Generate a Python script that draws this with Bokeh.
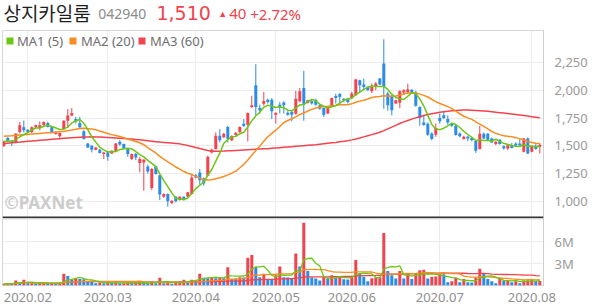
import numpy as np
import pandas as pd
from bokeh.plotting import figure
from bokeh.layouts import column
from bokeh.models import (Range1d, FixedTicker, NumeralTickFormatter, PrintfTickFormatter,
                          Label, BoxAnnotation, Span, ColumnDataSource)
from bokeh.embed import file_html
from bokeh.resources import INLINE

# ---------------- data ----------------
month_labels = ["2020.02", "2020.03", "2020.04", "2020.05", "2020.06", "2020.07", "2020.08"]
month_index = [6, 26, 48, 68, 87, 109, 132]   # session index of first trading day

opens = [1497, 1569, 1545, 1533, 1623, 1667, 1645, 1623, 1666, 1660,
         1684, 1705, 1667, 1605, 1585, 1650, 1726, 1772, 1742, 1706,
         1630, 1521, 1500, 1465, 1465, 1425, 1440, 1430, 1445, 1537,
         1515, 1470, 1381, 1425, 1345, 1350, 1312, 1120, 1315, 1235,
         1040, 1065, 985, 1040, 1012, 1040, 1042, 1066, 1235, 1260,
         1205, 1230, 1440, 1470, 1590, 1577, 1668, 1550, 1596, 1625,
         1698, 1689, 1849, 2045, 1840, 1879, 1915, 1915, 1780, 1870,
         1890, 1797, 1805, 1788, 1900, 2020, 1888, 1900, 1909, 1864,
         1840, 1790, 1858, 1948, 1966, 1924, 1924, 1930, 1955, 2090,
         2051, 2030, 1990, 2039, 2105, 2241, 1970, 1946, 1880, 1888,
         1980, 1985, 2005, 1980, 1849, 1710, 1698, 1610, 1600, 1750,
         1774, 1740, 1700, 1680, 1610, 1560, 1580, 1570, 1545, 1470,
         1607, 1607, 1565, 1515, 1555, 1495, 1475, 1505, 1520, 1520,
         1445, 1565, 1445, 1500, 1490]
highs = [1545, 1580, 1550, 1615, 1715, 1727, 1650, 1675, 1690, 1720,
         1720, 1715, 1675, 1630, 1620, 1730, 1830, 1840, 1760, 1760,
         1640, 1525, 1505, 1490, 1470, 1445, 1445, 1460, 1525, 1550,
         1520, 1475, 1430, 1435, 1400, 1380, 1330, 1300, 1320, 1240,
         1070, 1070, 1010, 1045, 1045, 1045, 1085, 1250, 1245, 1290,
         1215, 1410, 1475, 1620, 1650, 1615, 1680, 1595, 1622, 1675,
         1740, 1800, 1950, 2235, 1870, 1985, 1925, 1930, 1800, 1895,
         1900, 1810, 1815, 1995, 2020, 2175, 1915, 1910, 1925, 1870,
         1845, 1850, 1935, 1970, 1975, 1930, 1930, 1985, 2105, 2095,
         2105, 2035, 2060, 2075, 2110, 2460, 1985, 1960, 1915, 2000,
         2010, 2060, 2010, 1995, 1855, 1770, 1710, 1620, 1700, 1790,
         1815, 1775, 1705, 1690, 1620, 1590, 1590, 1580, 1550, 1680,
         1620, 1615, 1575, 1545, 1560, 1505, 1510, 1525, 1530, 1560,
         1570, 1575, 1500, 1515, 1525]
lows = [1490, 1530, 1497, 1525, 1610, 1620, 1615, 1615, 1660, 1640,
        1680, 1665, 1610, 1600, 1560, 1645, 1660, 1765, 1700, 1650,
        1555, 1480, 1440, 1460, 1430, 1380, 1365, 1425, 1440, 1500,
        1470, 1400, 1370, 1370, 1260, 1095, 1250, 1100, 1240, 1010,
        1030, 950, 975, 990, 1005, 1010, 1035, 1060, 1205, 1150,
        1140, 1225, 1430, 1465, 1530, 1570, 1530, 1540, 1590, 1615,
        1670, 1540, 1840, 1775, 1790, 1860, 1880, 1740, 1700, 1790,
        1790, 1770, 1720, 1780, 1890, 1725, 1880, 1870, 1860, 1825,
        1760, 1785, 1850, 1880, 1870, 1890, 1880, 1925, 1950, 1985,
        2000, 1995, 1975, 2000, 2045, 1833, 1815, 1774, 1875, 1840,
        1960, 1975, 1975, 1850, 1680, 1680, 1590, 1550, 1580, 1700,
        1740, 1690, 1670, 1590, 1575, 1555, 1540, 1540, 1435, 1465,
        1560, 1550, 1525, 1505, 1510, 1465, 1460, 1475, 1495, 1500,
        1440, 1425, 1440, 1465, 1430]
closes = [1539, 1545, 1530, 1608, 1684, 1640, 1623, 1667, 1684, 1684,
          1714, 1670, 1615, 1620, 1615, 1726, 1772, 1796, 1718, 1667,
          1560, 1485, 1465, 1485, 1435, 1440, 1400, 1455, 1521, 1512,
          1475, 1425, 1425, 1395, 1380, 1375, 1267, 1290, 1245, 1060,
          1065, 1000, 1005, 1000, 1040, 1020, 1080, 1215, 1215, 1190,
          1160, 1400, 1465, 1590, 1550, 1607, 1562, 1587, 1616, 1668,
          1677, 1795, 1864, 1849, 1820, 1903, 1895, 1810, 1797, 1849,
          1865, 1780, 1780, 1924, 1990, 1879, 1909, 1880, 1870, 1834,
          1779, 1840, 1930, 1930, 1940, 1909, 1894, 1970, 2096, 2045,
          2030, 2000, 2030, 2060, 2051, 2030, 1864, 1819, 1909, 1990,
          2000, 2010, 1985, 1860, 1750, 1686, 1600, 1560, 1660, 1720,
          1750, 1710, 1680, 1597, 1585, 1580, 1565, 1550, 1455, 1607,
          1565, 1555, 1530, 1535, 1515, 1475, 1505, 1480, 1500, 1505,
          1565, 1430, 1490, 1470, 1510]
volumes_m = [0.2, 0.25, 0.2, 0.7, 0.25, 0.8, 0.3, 0.3, 0.25, 0.3,
             0.3, 0.25, 0.3, 0.2, 0.25, 1.6, 1.3, 0.8, 0.95, 0.9,
             0.85, 0.6, 0.5, 0.3, 0.4, 0.3, 0.4, 0.35, 0.4, 0.3,
             0.3, 0.35, 0.3, 0.35, 0.4, 0.35, 0.3, 0.6, 0.3, 1.05,
             0.3, 0.35, 0.25, 0.5, 0.6, 0.8, 0.5, 0.8, 0.7, 1.6,
             1.05, 1.0, 1.1, 1.0, 1.15, 1.0, 2.5, 0.9, 0.88, 1.15,
             1.1, 3.8, 4.2, 2.5, 1.15, 1.6, 0.9, 0.88, 1.4, 2.6,
             1.15, 1.1, 0.95, 4.4, 2.6, 8.6, 2.0, 1.1, 0.95, 0.7,
             1.2, 0.9, 1.4, 1.05, 1.3, 0.85, 0.83, 1.2, 3.5, 1.7,
             1.2, 0.6, 1.0, 1.1, 1.2, 7.2, 2.0, 1.4, 0.95, 2.0,
             0.95, 1.6, 0.9, 1.6, 2.1, 2.15, 0.95, 1.2, 1.25, 1.6,
             1.55, 0.45, 0.6, 1.05, 0.45, 0.9, 0.45, 0.42, 1.05, 2.3,
             1.7, 0.9, 0.6, 0.3, 1.05, 0.65, 0.7, 0.45, 0.6, 0.3,
             0.7, 0.72, 0.74, 0.6, 0.62]
# MA2 (20) for the first sessions, whose window reaches before the chart
ma20_head = [1585, 1588, 1590, 1593, 1596, 1599, 1602, 1605, 1608, 1611,
             1614, 1617, 1620, 1623, 1627, 1631, 1636, 1641, 1648]
# MA3 (60) as drawn
ma60 = [1520, 1523, 1526, 1530, 1533, 1537, 1540, 1543, 1546, 1549, 1552,
        1555, 1558, 1561, 1564, 1567, 1570, 1572, 1574, 1576, 1578, 1579, 1580,
        1579, 1578, 1576, 1574, 1572, 1570, 1568, 1565, 1562, 1560, 1557,
        1553, 1549, 1545, 1541, 1537, 1533, 1530, 1527, 1524, 1521, 1517,
        1510, 1502, 1494, 1485, 1476, 1466, 1457,
        1450, 1450, 1451, 1452, 1454, 1456, 1458, 1460, 1462,
        1464, 1466, 1468, 1470, 1472, 1474, 1477, 1480, 1483, 1486,
        1489, 1492, 1495, 1498, 1501, 1504, 1507, 1510, 1514, 1518,
        1522, 1526, 1530, 1535, 1540, 1546, 1553, 1561, 1570, 1580,
        1590, 1600, 1610, 1622, 1636, 1652, 1668, 1684, 1700, 1715,
        1728, 1740, 1751, 1762, 1772, 1781, 1789, 1796, 1802, 1807,
        1811, 1815, 1818, 1820, 1821, 1821, 1820, 1818, 1816, 1813,
        1810, 1806, 1802, 1798, 1794, 1790, 1786, 1782, 1777, 1772,
        1767, 1762, 1757, 1752]

title_name = "상지카일룸"
title_code = "042940"
title_price = "1,510"
title_change = "40"
title_pct = "+2.72%"
legend_labels = ["MA1 (5)", "MA2 (20)", "MA3 (60)"]

# ---------------- styling ----------------
UP = "#f0434d"
DOWN = "#2b8be8"
C_MA1 = "#6cc614"
C_MA2 = "#f98d22"
C_MA3 = "#f2444e"
GRID = "#ececec"
FONT = "Noto Sans"

N = len(closes)
idx = np.arange(N)
df = pd.DataFrame({"i": idx, "o": opens, "h": highs, "l": lows, "c": closes,
                   "v": volumes_m})
df["top"] = df[["o", "c"]].max(axis=1)
df["bot"] = df[["o", "c"]].min(axis=1)
df["color"] = np.where(df["c"] >= df["o"], UP, DOWN)
# volume bars: red when volume rose from the previous session, blue when it fell
vprev = df["v"].shift(1).fillna(0)
df["vcolor"] = np.where(df["v"] >= vprev, UP, DOWN)
df["ma5"] = df["c"].rolling(5, min_periods=1).mean()
ma20_calc = df["c"].rolling(20, min_periods=20).mean().to_numpy()
df["ma20"] = np.concatenate([np.array(ma20_head, dtype=float), ma20_calc[len(ma20_head):]])
df["ma60"] = ma60
df["vma5"] = df["v"].rolling(5, min_periods=1).mean()
df["vma20"] = df["v"].rolling(20, min_periods=1).mean()
df["vma60"] = df["v"].rolling(60, min_periods=1).mean()
src = ColumnDataSource(df)

# pixel helpers for decorations (frame: x 2..543)
X0, XSTEP = 3.3, 4.0
x_range = Range1d(start=(2 - X0) / XSTEP, end=(543 - X0) / XSTEP)
PY0, PK = 62.0, 0.111  # y pixel of 2,250 ; pixels per won


def px_x(x):
    return (x - X0) / XSTEP


def px_y(y):
    return 2250 - (y - PY0) / PK


# ---------------- title strip ----------------
t = figure(width=594, height=30, x_range=Range1d(0, 594), y_range=Range1d(30, 0),
           min_border=0, toolbar_location=None, output_backend="svg",
           x_axis_location=None, y_axis_location=None)
t.outline_line_color = None
t.grid.visible = False
t.add_layout(Label(x=1, y=12, text=title_name, text_font="Noto Sans CJK KR",
                   text_font_size="19px", text_color="#1e1e1e", text_baseline="middle"))
t.add_layout(Label(x=105, y=13, text=title_code, text_font=FONT,
                   text_font_size="14px", text_color="#8c8c8c", text_baseline="middle"))
t.add_layout(Label(x=169, y=12, text=title_price, text_font="DejaVu Sans",
                   text_font_size="19px", text_color=UP, text_baseline="middle"))
t.add_layout(Label(x=237, y=12.5, text="▲", text_font=FONT,
                   text_font_size="9px", text_color=UP, text_baseline="middle"))
t.add_layout(Label(x=249, y=13, text=title_change, text_font=FONT,
                   text_font_size="15px", text_color=UP, text_baseline="middle"))
t.add_layout(Label(x=272, y=13, text=title_pct, text_font=FONT,
                   text_font_size="15px", text_color=UP, text_baseline="middle"))

# ---------------- price panel ----------------
p1 = figure(width=594, height=188, x_range=x_range, y_range=Range1d(px_y(218), px_y(30)),
            toolbar_location=None, output_backend="svg", x_axis_location=None,
            y_axis_location="right", min_border_left=2, min_border_right=51,
            min_border_top=0, min_border_bottom=0)
p1.outline_line_color = "#d6d6d6"
p1.background_fill_color = "white"
p1.xgrid.ticker = FixedTicker(ticks=month_index)
p1.ygrid.ticker = FixedTicker(ticks=[1000, 1250, 1500, 1750, 2000, 2250])
p1.grid.grid_line_color = GRID
ya = p1.yaxis[0]
ya.ticker = FixedTicker(ticks=[1000, 1250, 1500, 1750, 2000, 2250])
ya.formatter = NumeralTickFormatter(format="0,0")
ya.major_tick_line_color = None
ya.minor_tick_line_color = None
ya.axis_line_color = "#cfcfcf"
ya.major_label_text_color = "#9a9a9a"
ya.major_label_text_font = FONT
ya.major_label_text_font_size = "13px"
ya.major_label_standoff = 5

p1.segment(x0="i", y0="l", x1="i", y1="h", color="color", line_width=1, source=src)
p1.vbar(x="i", top="top", bottom="bot", width=0.75, fill_color="color",
        line_color=None, source=src)
p1.line(x="i", y="ma60", color=C_MA3, line_width=1.5, source=src)
p1.line(x="i", y="ma20", color=C_MA2, line_width=1.5, source=src)
p1.line(x="i", y="ma5", color=C_MA1, line_width=1.5, source=src)

# legend
leg_x = [(6, 16.5), (69, 80.5), (138, 149.5)]
for (sx, tx), col, lab in zip(leg_x, [C_MA1, C_MA2, C_MA3], legend_labels):
    p1.add_layout(BoxAnnotation(left=px_x(sx), right=px_x(sx + 7), top=px_y(37),
                                bottom=px_y(44), fill_color=col, fill_alpha=1,
                                line_color=None))
    p1.add_layout(Label(x=px_x(tx), y=px_y(40.5), text=lab, text_font=FONT,
                        text_font_size="13px", text_color="#6e6e6e",
                        text_baseline="middle"))

# watermark
p1.add_layout(Label(x=px_x(4), y=px_y(213.5), text="©PAXNet", text_font=FONT,
                    text_font_size="17px", text_font_style="bold", text_color="#cccccc",
                    text_baseline="bottom"))

# separator
p1.add_layout(Span(location=px_y(217), dimension="width", line_color="#333333",
                   line_width=2))

# ---------------- volume panel ----------------
p2 = figure(width=594, height=86, x_range=x_range, y_range=Range1d(0, 9.2),
            toolbar_location=None, output_backend="svg", y_axis_location="right",
            min_border_left=2, min_border_right=51, min_border_top=0,
            min_border_bottom=17)
p2.outline_line_color = "#d6d6d6"
p2.xgrid.ticker = FixedTicker(ticks=month_index)
p2.ygrid.ticker = FixedTicker(ticks=[3, 6, 9])
p2.grid.grid_line_color = GRID
xa = p2.xaxis[0]
xa.ticker = FixedTicker(ticks=month_index)
xa.major_label_overrides = {k: v for k, v in zip(month_index, month_labels)}
xa.axis_line_color = None
xa.major_tick_line_color = None
xa.minor_tick_line_color = None
xa.major_label_text_color = "#8f8f8f"
xa.major_label_text_font = FONT
xa.major_label_text_font_size = "13px"
xa.major_label_standoff = 1
vy = p2.yaxis[0]
vy.ticker = FixedTicker(ticks=[3, 6])
vy.formatter = PrintfTickFormatter(format="%dM")
vy.major_tick_line_color = None
vy.minor_tick_line_color = None
vy.axis_line_color = "#cfcfcf"
vy.major_label_text_color = "#9a9a9a"
vy.major_label_text_font = FONT
vy.major_label_text_font_size = "13px"
vy.major_label_standoff = 5

p2.vbar(x="i", top="v", bottom=0, width=0.75, fill_color="vcolor", line_color=None,
        source=src)
p2.line(x="i", y="vma60", color=C_MA3, line_width=1.3, source=src)
p2.line(x="i", y="vma20", color=C_MA2, line_width=1.3, source=src)
p2.line(x="i", y="vma5", color=C_MA1, line_width=1.3, source=src)

layout = column(t, p1, p2, spacing=0)
open("out.html", "w").write(file_html(layout, INLINE, title="상지카일룸"))
